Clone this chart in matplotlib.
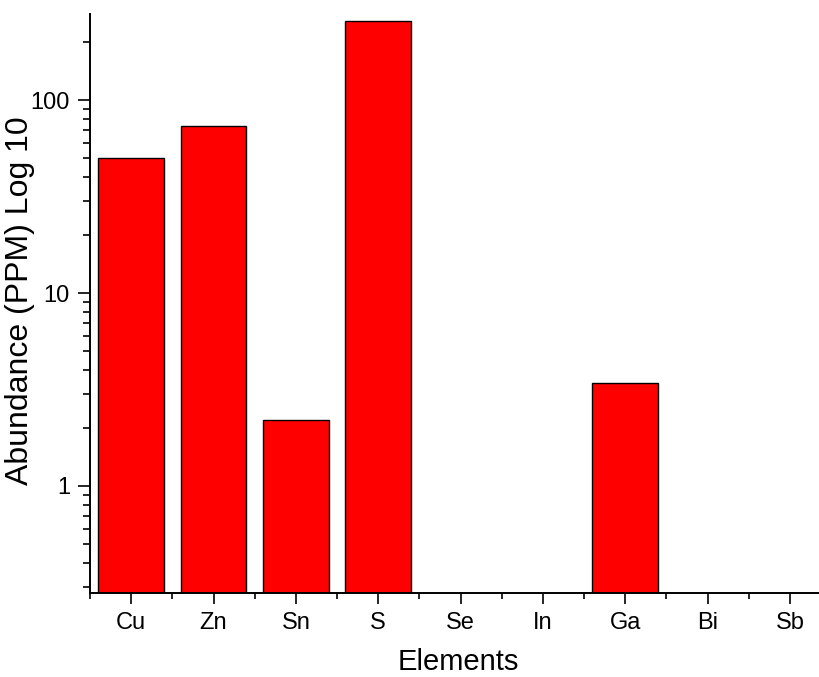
import numpy as np
from matplotlib import pyplot as plt
from matplotlib.ticker import FixedLocator, NullFormatter, FuncFormatter, LogLocator

elements = ['Cu', 'Zn', 'Sn', 'S', 'Se', 'In', 'Ga', 'Bi', 'Sb']
abundance = [50, 74, 2.2, 260, 0, 0, 3.4, 0, 0]

plt.rcParams['font.family'] = ['Liberation Sans', 'DejaVu Sans']

fig = plt.figure(figsize=(8.2, 6.77), dpi=100)
ax = fig.add_axes([0.1098, 0.1245, 0.9037, 0.8548])

x = np.arange(len(elements))
ax.bar(x, abundance, width=0.8, color='#ff0000', edgecolor='black', linewidth=1.0)

ax.set_yscale('log')
ax.set_ylim(0.279, 281)
ax.set_xlim(-0.5, len(elements) - 0.5)

ax.set_xticks(x)
ax.set_xticklabels(elements)
ax.xaxis.set_minor_locator(FixedLocator(np.arange(-0.5, len(elements), 1.0)))

ax.yaxis.set_major_locator(LogLocator(base=10))
ax.yaxis.set_major_formatter(FuncFormatter(lambda v, p: f'{v:g}'))
ax.yaxis.set_minor_locator(LogLocator(base=10, subs=np.arange(2, 10)))
ax.yaxis.set_minor_formatter(NullFormatter())

for s in ['top', 'right']:
    ax.spines[s].set_visible(False)
for s in ['left', 'bottom']:
    ax.spines[s].set_linewidth(1.4)

ax.tick_params(axis='both', which='major', direction='out', width=1.2, labelsize=17)
ax.tick_params(axis='y', which='major', length=8.5, pad=6)
ax.tick_params(axis='y', which='minor', length=5, width=1.2)
ax.tick_params(axis='x', which='major', length=8, pad=6)
ax.tick_params(axis='x', which='minor', length=4, width=1.2)

ax.set_xlabel('Elements', fontsize=21)
ax.set_ylabel('Abundance (PPM) Log 10', fontsize=23)
ax.xaxis.set_label_coords(0.497, -0.096)
ax.yaxis.set_label_coords(-0.074, 0.505)

plt.savefig('out.png', dpi=100)
